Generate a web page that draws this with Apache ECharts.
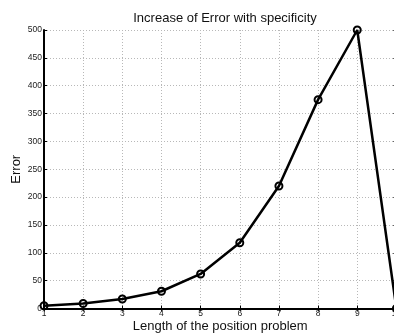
<!DOCTYPE html>
<html>
<head>
<meta charset="utf-8">
<script src="https://cdn.jsdelivr.net/npm/echarts@6/dist/echarts.min.js"></script>
<style>
  html, body { margin: 0; padding: 0; background: #fff; }
  #chart { width: 394px; height: 334px; }
</style>
</head>
<body>
<div id="chart"></div>
<script>
// Error measured for each length of the position problem
const lengths = [1, 2, 3, 4, 5, 6, 7, 8, 9, 10];
const errors = [5, 9, 17, 31, 62, 118, 220, 375, 500, 0];
const xTicks = [1, 2, 3, 4, 5, 6, 7, 8, 9, 10];
const yTicks = [0, 50, 100, 150, 200, 250, 300, 350, 400, 450, 500];

const FONT = '"Liberation Sans", Arial, Helvetica, sans-serif';

const chart = echarts.init(document.getElementById('chart'), null, { renderer: 'canvas' });

const gridLine = { show: true, lineStyle: { color: '#b8b8b8', type: [1, 2], width: 1 } };
const frameTick = { show: true, inside: true, length: 3, lineStyle: { color: '#000' } };

chart.setOption({
  animation: false,
  backgroundColor: '#fff',
  title: {
    text: 'Increase of Error with specificity',
    left: 220, top: 7, textAlign: 'center',
    textStyle: { fontFamily: FONT, fontSize: 13, fontWeight: 'normal', color: '#111' }
  },
  // the plot frame runs slightly past the right edge of the page
  grid: { left: 44, top: 30, width: 352.4, height: 278.5, containLabel: false, outerBoundsMode: 'none' },
  xAxis: [{
    type: 'value', min: xTicks[0], max: xTicks[xTicks.length - 1], interval: 1,
    name: 'Length of the position problem', nameLocation: 'middle', nameGap: 11,
    nameMoveOverlap: false,
    nameTextStyle: { fontFamily: FONT, fontSize: 13, color: '#111' },
    axisLine: { show: true, onZero: false, lineStyle: { color: '#000', width: 2 } },
    axisTick: frameTick,
    axisLabel: { fontFamily: FONT, fontSize: 8.5, color: '#222', margin: 1,
      formatter: v => xTicks.includes(v) ? String(v) : '' },
    splitLine: gridLine
  }, {
    type: 'value', position: 'top', min: xTicks[0], max: xTicks[xTicks.length - 1], interval: 1,
    axisLine: { show: true, lineStyle: { color: '#000', width: 2 } },
    axisTick: frameTick,
    axisLabel: { show: false }, splitLine: { show: false }
  }],
  yAxis: [{
    type: 'value', min: yTicks[0], max: yTicks[yTicks.length - 1], interval: 50,
    name: 'Error', nameLocation: 'middle', nameGap: 21,
    nameMoveOverlap: false,
    nameTextStyle: { fontFamily: FONT, fontSize: 13, color: '#111' },
    axisLine: { show: true, onZero: false, lineStyle: { color: '#000', width: 2 } },
    axisTick: frameTick,
    axisLabel: { fontFamily: FONT, fontSize: 8.5, color: '#222', margin: 2 },
    splitLine: gridLine
  }, {
    type: 'value', position: 'right', min: yTicks[0], max: yTicks[yTicks.length - 1], interval: 50,
    axisLine: { show: true, lineStyle: { color: '#000', width: 2 } },
    axisTick: frameTick,
    axisLabel: { show: false }, splitLine: { show: false }
  }],
  series: [{
    type: 'line',
    data: lengths.map((x, i) => [x, errors[i]]),
    symbol: 'circle', symbolSize: 7,
    lineStyle: { color: '#000', width: 2.5 },
    itemStyle: { color: 'rgba(255,255,255,0)', borderColor: '#000', borderWidth: 2 },
    clip: false,
    z: 5
  }]
});
</script>
</body>
</html>
